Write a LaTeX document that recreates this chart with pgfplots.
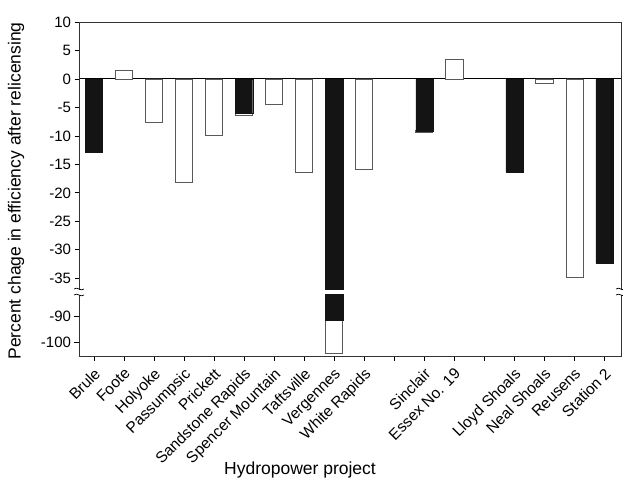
\documentclass[border=0pt]{standalone}
\usepackage{pgfplots}
\pgfplotsset{compat=1.18}
\usepackage{pgfplotstable}
\usepackage{fontspec}
\setmainfont{Liberation Sans}

\pgfplotstableread{
x black white
0 -12.9 0
1 0 1.5
2 0 -7.6
3 0 -18.2
4 0 -9.9
5 -6.0 -0.4
6 0 -4.5
7 0 -16.4
8 -91.4 -12.6
9 0 -15.9
11 -9.1 -0.3
12 0 3.45
14 -16.3 0
15 0 -0.75
16 0 -34.9
17 -32.3 0
}\datatable

\pgfplotsset{mybars/.style={
  scale only axis, width=542pt, xmin=-0.5, xmax=17.55,
  ybar stacked, bar width=0.57, clip mode=individual,
  axis line style={draw=none}, tick align=outside, ytick pos=left,
  tick style={black, line width=0.8pt}, major tick length=4.5pt,
  tick label style={font=\fontsize{15}{17}\selectfont},
}}

\begin{document}
\begin{tikzpicture}
\useasboundingbox (0,0) rectangle (623pt,482pt);
\begin{axis}[mybars, at={(79pt,192pt)}, anchor=south west, height=268pt,
  ymin=-37.05, ymax=10,
  ytick={10,5,0,-5,-10,-15,-20,-25,-30,-35},
  yticklabels={10,5,0,-5,-10,-15,-20,-25,-30,-35},
  xtick=\empty,
  extra y ticks={0}, extra y tick labels={},
  extra y tick style={grid=major, major grid style={black, line width=0.9pt}}]
\addplot[fill=black!92, draw=black!92] table[x=x, y=black] {\datatable};
\addplot[fill=white, draw=black!65, line width=0.8pt] table[x=x, y=white] {\datatable};
\draw[black!80, line width=0.8pt] (rel axis cs:0,0) -- (rel axis cs:0,1) -- (rel axis cs:1,1) -- (rel axis cs:1,0);
\end{axis}
\begin{axis}[mybars, at={(79pt,126pt)}, anchor=south west, height=61.5pt,
  ymin=-105.15, ymax=-81.7,
  ytick={-90,-100}, yticklabels={-90,-100},
  xtick={0,...,17}, xtick pos=bottom,
  xticklabels={Brule,Foote,Holyoke,Passumpsic,Prickett,Sandstone Rapids,Spencer Mountain,Taftsville,Vergennes,White Rapids,{},Sinclair,Essex No. 19,{},Lloyd Shoals,Neal Shoals,Reusens,Station 2},
  xticklabel style={rotate=45, anchor=north east, inner sep=1pt, xshift=-4pt, yshift=-3pt, font=\fontsize{15.5}{17}\selectfont}]
\addplot[fill=black!92, draw=black!92, x filter/.expression={x==8 ? x : nan}] table[x=x, y=black] {\datatable};
\addplot[fill=white, draw=black!65, line width=0.8pt, x filter/.expression={x==8 ? x : nan}] table[x=x, y=white] {\datatable};
\draw[black!80, line width=0.8pt] (rel axis cs:0,1) -- (rel axis cs:0,0) -- (rel axis cs:1,0) -- (rel axis cs:1,1);
\end{axis}
\foreach \xx in {79,621} {
  \fill[white] (\xx pt-1pt,187.5pt) rectangle (\xx pt+1pt,192pt);
  \draw[black, line width=0.7pt] (\xx pt-5pt,193pt) .. controls (\xx pt-2pt,196pt) and (\xx pt+2pt,190pt) .. (\xx pt+5pt,193pt);
  \draw[black, line width=0.7pt] (\xx pt-5pt,187pt) .. controls (\xx pt-2pt,190pt) and (\xx pt+2pt,184pt) .. (\xx pt+5pt,187pt);
}
\node[rotate=90, font=\fontsize{17.5}{20}\selectfont] at (16pt,291pt) {Percent chage in efficiency after relicensing};
\node[font=\fontsize{17.5}{20}\selectfont] at (300pt,12pt) {Hydropower project};
\end{tikzpicture}
\end{document}
